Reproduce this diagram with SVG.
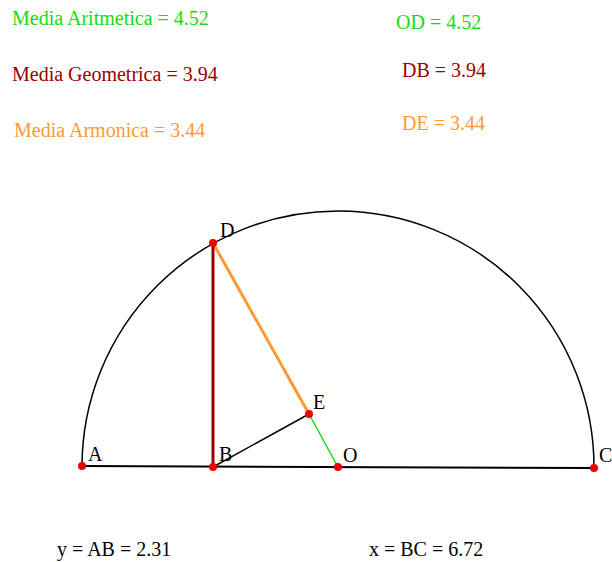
<svg xmlns="http://www.w3.org/2000/svg" width="612" height="562" viewBox="0 0 612 562">
<style>
text{font-family:"Liberation Serif","Times New Roman",serif;font-size:20px}
.g{fill:#11dd11}.r{fill:#990000}.o{fill:#ff9933}.k{fill:#000}
.lbl{font-size:20px}
.pt{fill:#ee0000}
</style>
<rect width="612" height="562" fill="#fff"/>
<text class="g" x="12" y="25">Media Aritmetica = 4.52</text>
<text class="r" x="12" y="81">Media Geometrica = 3.94</text>
<text class="o" x="14" y="137">Media Armonica = 3.44</text>
<text class="g" x="396" y="29">OD = 4.52</text>
<text class="r" x="402" y="77">DB = 3.94</text>
<text class="o" x="402" y="130">DE = 3.44</text>
<text class="k" x="57" y="556">y = AB = 2.31</text>
<text class="k" x="369" y="556">x = BC = 6.72</text>
<g id="connectors" fill="none">
<path d="M82 466 A256 256 0 0 1 594 468" stroke="#000" stroke-width="1.5"/>
<line x1="82" y1="466" x2="594" y2="468" stroke="#000" stroke-width="2"/>
<line x1="213" y1="467" x2="309" y2="414" stroke="#000" stroke-width="1.5"/>
<line x1="309" y1="414" x2="338" y2="467" stroke="#11dd11" stroke-width="1.5"/>
<line x1="213" y1="243" x2="309" y2="414" stroke="#ff9933" stroke-width="3"/>
<line x1="213" y1="243" x2="213" y2="467" stroke="#990000" stroke-width="3"/>
</g>
<g id="A"><circle class="pt" cx="82" cy="466" r="4"/><text class="k lbl" x="88" y="461">A</text></g>
<g id="B"><circle class="pt" cx="213" cy="467" r="4"/><text class="k lbl" x="219" y="461">B</text></g>
<g id="O"><circle class="pt" cx="338" cy="467" r="4"/><text class="k lbl" x="343" y="462">O</text></g>
<g id="C"><circle class="pt" cx="594" cy="468" r="4"/><text class="k lbl" x="599" y="462">C</text></g>
<g id="D"><circle class="pt" cx="213" cy="243" r="4"/><text class="k lbl" x="220" y="237">D</text></g>
<g id="E"><circle class="pt" cx="309" cy="414" r="4"/><text class="k lbl" x="313" y="409">E</text></g>
</svg>
